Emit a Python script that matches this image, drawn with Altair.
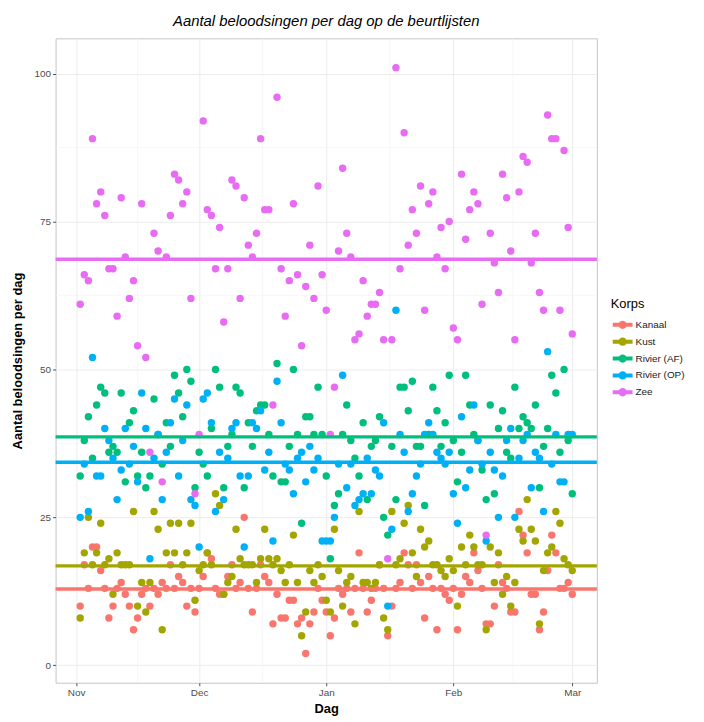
import altair as alt
import pandas as pd

# ---------------- data ----------------
korps = ["Kanaal", "Kust", "Rivier (AF)", "Rivier (OP)", "Zee"]
kleuren = ["#F8766D", "#A3A500", "#00BF7D", "#00B0F6", "#E76BF3"]

eerste_dag = "2015-11-02"
laatste_dag = "2016-03-01"
dagen = pd.date_range(eerste_dag, laatste_dag, freq="D").strftime("%Y-%m-%d").tolist()

# Nov 2..30, Dec 1..31, Jan 1..31, Feb 1..29, Mar 1
kanaal = [10, 17, 13, 20, 20, 16, 13, 8, 10, 13, 14, 12, 10, 6, 8, 12, 13, 10, 13, 12, 14, 13, 17, 13, 15, 14, 10, 13, 9,
          13, 15, 19, 18, 13, 12, 12, 15, 17, 13, 14, 25, 13, 9, 13, 17, 15, 14, 7, 12, 8, 8, 11, 11, 7, 8, 2, 7, 9, 13, 11,
          9, 5, 8, 13, 12, 13, 9, 13, 19, 13, 9, 11, 13, 17, 13, 5, 10, 13, 14, 19, 17, 13, 17, 14, 8, 15, 13, 6, 13, 12, 11,
          13, 6, 12, 15, 14, 19, 16, 13, 7, 7, 10, 17, 14, 13, 9, 9, 26, 22, 19, 12, 12, 6, 9, 16, 22, 19, 13, 13, 14,
          12]
kust = [8, 19, 25, 17, 19, 24, 17, 18, 12, 19, 17, 17, 17, 26, 10, 14, 9, 14, 26, 23, 6, 19, 24, 19, 24, 17, 19, 24, 11,
        16, 17, 19, 17, 29, 27, 12, 14, 15, 23, 18, 17, 17, 17, 14, 18, 23, 18, 17, 18, 16, 14, 17, 22, 14, 5, 9, 16, 14, 17, 15,
        11, 9, 23, 16, 10, 14, 15, 7, 26, 14, 14, 13, 14, 17, 8, 6, 26, 17, 18, 24, 27, 19, 15, 23, 20, 21, 17, 17, 16, 15, 18,
        16, 10, 20, 17, 22, 20, 17, 17, 6, 20, 14, 19, 12, 15, 10, 14, 23, 21, 28, 23, 21, 7, 16, 19, 20, 26, 24, 18, 17,
        16]
rivier_af = [32, 38, 42, 35, 44, 47, 46, 36, 37, 36, 46, 31, 41, 43, 32, 36, 30, 32, 45, 39, 34, 41, 37, 49, 46, 42, 50, 48, 30,
             36, 34, 32, 40, 50, 47, 30, 37, 39, 47, 46, 30, 41, 37, 43, 44, 44, 39, 32, 51, 31, 31, 37, 50, 39, 24, 42, 42, 39, 47, 39,
             32, 18, 27, 29, 39, 44, 38, 35, 32, 41, 28, 37, 38, 42, 25, 22, 37, 28, 47, 47, 43, 48, 37, 37, 27, 39, 47, 43, 37, 41, 49,
             38, 31, 36, 49, 44, 39, 38, 33, 28, 44, 29, 40, 43, 36, 35, 47, 40, 42, 41, 40, 44, 30, 37, 40, 49, 46, 36, 50, 38,
             29]
rivier_op = [25, 34, 26, 52, 32, 32, 40, 38, 35, 28, 33, 40, 34, 37, 31, 46, 40, 18, 35, 39, 28, 36, 41, 45, 32, 38, 44, 28, 27,
             20, 45, 46, 41, 26, 36, 28, 35, 40, 41, 32, 20, 32, 41, 40, 43, 33, 36, 21, 48, 41, 34, 33, 29, 35, 36, 31, 37, 33, 35, 21,
             21, 21, 25, 34, 49, 30, 34, 27, 28, 29, 35, 29, 33, 32, 41, 10, 23, 60, 39, 36, 26, 29, 32, 34, 39, 41, 39, 36, 35, 34, 36,
             29, 24, 42, 30, 33, 44, 38, 34, 21, 36, 33, 25, 32, 38, 40, 25, 35, 38, 39, 30, 36, 35, 26, 53, 34, 39, 31, 31, 39,
             39]
zee = [61, 66, 65, 89, 78, 80, 76, 67, 67, 59, 79, 69, 62, 65, 54, 78, 52, 36, 73, 70, 31, 69, 76, 83, 82, 78, 80, 62, 29,
       39, 92, 77, 76, 67, 74, 58, 67, 82, 81, 62, 79, 71, 69, 73, 89, 77, 77, 44, 96, 67, 59, 65, 78, 66, 54, 64, 71, 62, 81, 66,
       60, 39, 47, 70, 84, 73, 69, 55, 56, 65, 59, 61, 61, 63, 55, 18, 55, 101, 67, 90, 71, 77, 73, 81, 60, 78, 80, 69, 74, 67, 75,
       57, 55, 83, 72, 77, 80, 78, 61, 22, 73, 68, 63, 83, 79, 70, 55, 80, 86, 85, 68, 73, 63, 60, 93, 89, 89, 60, 87, 74,
       56]

gemiddelden = [12.9, 16.8, 38.6, 34.3, 68.6]

y_ticks = [0, 25, 50, 75, 100]
y_minor = [12.5, 37.5, 62.5, 87.5]
x_minor = ["2015-11-16T00:00:00Z", "2015-12-16T12:00:00Z", "2016-01-16T12:00:00Z", "2016-02-15T12:00:00Z"]

series = [kanaal, kust, rivier_af, rivier_op, zee]
rows = []
for naam, waarden in zip(korps, series):
    for d, v in zip(dagen, waarden):
        rows.append({"Dag": d, "Aantal": v, "Korps": naam})
df = pd.DataFrame(rows)
df_mean = pd.DataFrame({"Korps": korps, "Gemiddelde": gemiddelden})
df_xminor = pd.DataFrame({"Dag": x_minor})
df_yminor = pd.DataFrame({"Aantal": y_minor})

FONT = "Liberation Sans"

x_scale = alt.Scale(
    type="utc",
    domain=[alt.DateTime(year=2015, month=10, date=27, utc=True),
            alt.DateTime(year=2016, month=3, date=7, utc=True)],
    nice=False,
)
y_scale = alt.Scale(domain=[-2.95, 105.95], nice=False, zero=False)

month_ticks = [
    alt.DateTime(year=2015, month=11, date=1, utc=True),
    alt.DateTime(year=2015, month=12, date=1, utc=True),
    alt.DateTime(year=2016, month=1, date=1, utc=True),
    alt.DateTime(year=2016, month=2, date=1, utc=True),
    alt.DateTime(year=2016, month=3, date=1, utc=True),
]

color = alt.Color(
    "Korps:N",
    scale=alt.Scale(domain=korps, range=kleuren),
    title="Korps",
)

legend_path = ("M-1,-0.2L1,-0.2L1,0.2L-1,0.2Z "
               "M-0.42,0A0.42,0.42,0,1,1,0.42,0A0.42,0.42,0,1,1,-0.42,0Z")

minor_x = alt.Chart(df_xminor).mark_rule(color="#F3F3F3", strokeWidth=0.7).encode(
    x=alt.X("Dag:T", scale=x_scale)
)
minor_y = alt.Chart(df_yminor).mark_rule(color="#F3F3F3", strokeWidth=0.7).encode(
    y=alt.Y("Aantal:Q", scale=y_scale)
)

points = alt.Chart(df).mark_circle(size=56, opacity=1).encode(
    x=alt.X("Dag:T", scale=x_scale,
            axis=alt.Axis(values=month_ticks, format="%b", title="Dag",
                          titleX=273, titleY=26, titleAlign="center",
                          titleBaseline="middle")),
    y=alt.Y("Aantal:Q", scale=y_scale,
            axis=alt.Axis(values=y_ticks, title="Aantal beloodsingen per dag",
                          titleX=-38, titleY=325, titleAngle=270,
                          titleAlign="center", titleBaseline="middle")),
    color=color,
)

means = alt.Chart(df_mean).mark_rule(strokeWidth=3.5).encode(
    y=alt.Y("Gemiddelde:Q", scale=y_scale),
    color=color,
)

chart = alt.layer(minor_x, minor_y, points, means).properties(
    width=546,
    height=650,
    title=alt.TitleParams(
        "Aantal beloodsingen per dag op de beurtlijsten",
        font=FONT, fontSize=15, fontStyle="italic", fontWeight="normal",
        color="#000000", anchor="middle", offset=9,
    ),
    autosize=alt.AutoSizeParams(type="none"),
    padding={"left": 48, "top": 27.5, "right": 100, "bottom": 36},
).configure_view(
    stroke="#C4C4C4", strokeWidth=1
).configure_axis(
    labelFont=FONT, labelFontSize=10, labelColor="#4D4D4D",
    tickColor="#4D4D4D", tickSize=3, labelPadding=2,
    domain=False, gridColor="#ECECEC", gridWidth=1,
    titleFont=FONT, titleFontSize=13, titleFontWeight="bold", titleColor="#000000",
).configure_legend(
    orient="none", legendX=560, legendY=262,
    titleFont=FONT, titleFontSize=13, titleFontWeight="normal", titleColor="#000000",
    titlePadding=4,
    labelFont=FONT, labelFontSize=10, labelColor="#1A1A1A",
    symbolType=legend_path, symbolSize=400, symbolStrokeWidth=0,
    rowPadding=2, symbolOffset=2, labelOffset=3, padding=0,
)

chart.save("out.html", embed_options={"renderer": "svg", "actions": False})
